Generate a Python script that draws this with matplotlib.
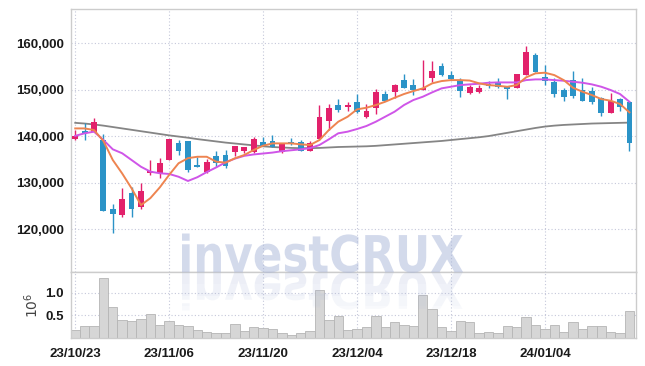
import numpy as np
import matplotlib
matplotlib.use('Agg')
import matplotlib.pyplot as plt
import matplotlib.font_manager as fm
from matplotlib.textpath import TextPath
from matplotlib.patches import PathPatch
from matplotlib.transforms import Affine2D, Bbox, TransformedBbox
from matplotlib.ticker import FuncFormatter

# daily OHLC (60 trading days, 2023-10-23 .. 2024-01-17)
opens = [139400, 141200, 141000, 139300, 124300, 123000, 127900, 124700, 132000, 132200,
         134900, 138600, 138900, 133800, 132300, 135800, 136000, 136600, 136850, 136600,
         138800, 139000, 136600, 138750, 138800, 136900, 139400, 143400, 146700, 146400,
         147300, 144150, 146150, 149100, 149600, 152100, 151000, 150050, 152600, 155100,
         153200, 152100, 149250, 149450, 151350, 151400, 150650, 150450, 153300, 157500,
         152700, 151750, 149950, 152100, 149950, 149750, 148150, 145100, 147950, 147300]
highs = [141300, 142900, 143900, 140500, 125400, 128900, 129100, 129900, 134900, 135300,
         139500, 139300, 139100, 135500, 135100, 136900, 137100, 138000, 137800, 139800,
         139800, 140300, 138600, 139550, 139200, 139100, 146700, 146900, 148000, 147400,
         149200, 147000, 150100, 149750, 151200, 153400, 152250, 156400, 156250, 155700,
         154000, 152500, 151100, 151000, 151900, 152450, 150900, 153500, 159400, 157850,
         155300, 152500, 150500, 154000, 152450, 150650, 148400, 149250, 148200, 147500]
lows = [139300, 139200, 140900, 123900, 119200, 122700, 122700, 124300, 131700, 131000,
        134800, 135900, 132300, 133400, 132000, 133500, 133100, 135800, 136400, 136500,
        137900, 137700, 136500, 138200, 136800, 136800, 139300, 141400, 145300, 145500,
        145000, 144000, 144700, 147500, 148300, 150300, 148900, 149950, 151600, 153000,
        152200, 148500, 149150, 149400, 150300, 150500, 148000, 150300, 153200, 153800,
        151000, 148500, 147600, 148150, 147500, 146950, 144350, 145000, 145500, 136800]
closes = [140000, 140800, 143100, 124000, 123200, 126500, 124400, 128200, 132600, 134300,
          139400, 136900, 132700, 133500, 134400, 134200, 133700, 137900, 137600, 139400,
          138000, 137800, 138300, 138300, 136900, 138500, 144100, 146200, 145600, 146700,
          145200, 145450, 149450, 147700, 151000, 150450, 149950, 150450, 154100, 153200,
          152300, 149750, 150550, 150300, 150900, 150650, 150200, 153400, 158050, 153900,
          152000, 149100, 148550, 148650, 147600, 147450, 145100, 147600, 146400, 138600]

# moving averages
ma_short = [141700, 141700, 141350, 139000, 134900, 132000, 128800, 125200, 126700, 129000,
            131700, 134200, 135300, 135600, 135600, 134550, 134330, 135270, 135980, 137050,
            137980, 138480, 138480, 138480, 138270, 138130, 139200, 141350, 143140, 144220,
            145800, 146150, 146730, 147440, 148300, 149100, 149740, 150320, 151400, 151890,
            152100, 152100, 152000, 151400, 151030, 150880, 150660, 151030, 152690, 153550,
            153690, 153180, 152100, 150450, 149600, 148880, 148020, 147660, 146950, 145160]
ma_mid = [140100, 140650, 141000, 139200, 137200, 136350, 134900, 133450, 132400, 132050,
          131900, 131300, 130390, 131200, 132300, 133300, 134400, 135200, 135800, 136100,
          136300, 136500, 136800, 137000, 137200, 137450, 138130, 139350, 140650, 141000,
          141570, 142220, 143140, 144220, 145300, 146730, 147810, 148520, 149460, 150320,
          150670, 151030, 151180, 151320, 151530, 151600, 151600, 151600, 152100, 152250,
          152250, 152100, 151960, 151740, 151530, 151180, 150670, 149960, 149100, 147440]
ma_long = [142900, 142750, 142550, 142300, 142000, 141700, 141400, 141100, 140800, 140500,
           140200, 139950, 139700, 139400, 139150, 138900, 138650, 138450, 138250, 138050,
           137850, 137700, 137600, 137500, 137450, 137450, 137500, 137600, 137700, 137750,
           137800, 137850, 137950, 138100, 138250, 138400, 138550, 138700, 138850, 139000,
           139200, 139400, 139600, 139800, 140050, 140400, 140750, 141100, 141450, 141800,
           142100, 142300, 142450, 142550, 142650, 142750, 142800, 142850, 142900, 142950]

volumes = [180000, 270000, 270000, 1320000, 680000, 400000, 380000, 430000, 540000, 290000,
           380000, 290000, 270000, 180000, 140000, 120000, 120000, 320000, 160000, 250000,
           230000, 210000, 100000, 70000, 100000, 160000, 1070000, 400000, 490000, 180000,
           210000, 240000, 480000, 240000, 350000, 290000, 260000, 960000, 650000, 240000,
           160000, 380000, 350000, 100000, 140000, 120000, 260000, 240000, 460000, 290000,
           210000, 290000, 140000, 350000, 210000, 270000, 260000, 140000, 120000, 600000]

tick_idx = [0, 10, 20, 30, 40, 50]
tick_labels = ['23/10/23', '23/11/06', '23/11/20', '23/12/04', '23/12/18', '24/01/04']
price_ticks = [120000, 130000, 140000, 150000, 160000]

up_col = '#e2216b'
dn_col = '#2b93c7'
grid_col = '#c5c8da'
frame_col = '#cccccc'

lab_prop = fm.FontProperties(family=['Liberation Sans', 'DejaVu Sans'], weight='bold', size=9.5)
wm_prop = fm.FontProperties(family='DejaVu Sans', weight='bold')

W, H = 645, 366
fig = plt.figure(figsize=(W / 100, H / 100), dpi=100)
ax = fig.add_axes([71 / W, 1 - 272 / H, 565 / W, 263 / H])
axv = fig.add_axes([71 / W, 1 - 338 / H, 565 / W, 66 / H], sharex=ax)

x = np.arange(len(closes))
o = np.array(opens)
c = np.array(closes)
colors = [up_col if cc >= oo else dn_col for oo, cc in zip(o, c)]
body = np.maximum(np.abs(c - o), 150)
bottom = np.minimum(o, c)

ax.plot(x, ma_long, color='#858585', lw=1.3, zorder=2)
ax.vlines(x, lows, highs, colors=colors, lw=1.0, zorder=3)
ax.bar(x, body, bottom=bottom, width=0.62, color=colors, zorder=3)
ax.plot(x, ma_mid, color='#cf55e8', lw=1.4, zorder=4)
ax.plot(x, ma_short, color='#ee8450', lw=1.4, zorder=4)

ax.set_xlim(-0.45, 59.7)
ax.set_ylim(110800, 167400)
ax.set_yticks(price_ticks)
ax.yaxis.set_major_formatter(FuncFormatter(lambda v, p: f'{int(v):,}'))
ax.set_xticks(tick_idx)
ax.tick_params(axis='x', labelbottom=False, length=0)
ax.tick_params(axis='y', length=0, pad=5)
ax.grid(True, linestyle=(0, (1, 2)), color=grid_col, lw=0.8)
ax.set_axisbelow(True)

axv.bar(x, np.array(volumes) / 1e6, width=1.0, color='#d6d6d6',
        edgecolor='#b5b5b5', lw=0.6, zorder=2)
axv.set_ylim(0, 1.46)
axv.set_yticks([0.5, 1.0])
axv.set_yticklabels(['0.5', '1.0'])
axv.set_xticks(tick_idx)
axv.set_xticklabels(tick_labels)
axv.tick_params(length=0)
axv.tick_params(axis='y', pad=5)
axv.tick_params(axis='x', pad=7)
axv.grid(True, linestyle=(0, (1, 2)), color=grid_col, lw=0.8)
axv.set_axisbelow(True)
axv.set_ylabel('10$^6$', fontsize=10, color='#444444', labelpad=3)

for a in (ax, axv):
    for s in a.spines.values():
        s.set_color(frame_col)
        s.set_linewidth(1.0)
    for lab in a.get_xticklabels() + a.get_yticklabels():
        lab.set_fontproperties(lab_prop)
        lab.set_color('#1a1a1a')

# watermark with reflection
tp = TextPath((0, 0), 'investCRUX', size=100, prop=wm_prop)
ext = tp.get_extents()
px0, px1, ptop, pbase = 182, 463, 233.5, 272
sx = (px1 - px0) / ext.width
sy = (pbase - ptop) / ext.y1
base_tr = Affine2D().translate(-ext.x0, 0)
tr_up = base_tr + Affine2D().scale(sx, sy).translate(px0, H - pbase).scale(1 / W, 1 / H) + fig.transFigure
tr_dn = base_tr + Affine2D().scale(sx, -sy).translate(px0, H - pbase).scale(1 / W, 1 / H) + fig.transFigure
wm = PathPatch(tp, transform=tr_up, fc='#a9b6d9', ec='none', alpha=0.5, zorder=5)
fig.add_artist(wm)
bands = [(272, 284, 0.22), (284, 296, 0.18), (296, 306, 0.12), (306, 320, 0.07)]
for y0, y1, al in bands:
    p = PathPatch(tp, transform=tr_dn, fc='#a9b6d9', ec='none', alpha=al, zorder=5)
    fig.add_artist(p)
    clip = TransformedBbox(Bbox([[0, (H - y1) / H], [1, (H - y0) / H]]), fig.transFigure)
    p.set_clip_box(clip)

fig.savefig('out.png', dpi=100)
